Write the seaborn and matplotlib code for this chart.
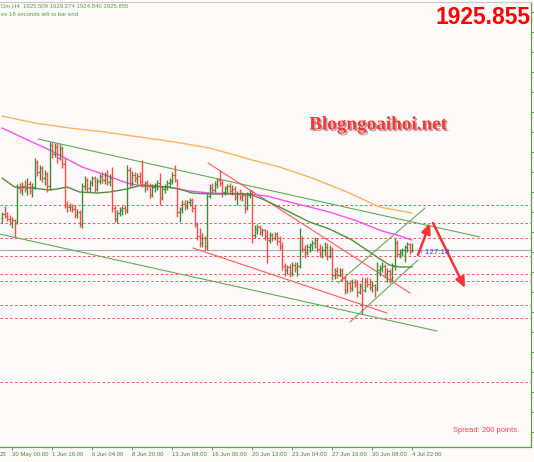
"""MT4-style XAUUSD H4 bar chart with channels and levels, rebuilt with seaborn."""

import matplotlib

matplotlib.use("Agg")
import matplotlib.patheffects as pe
import matplotlib.pyplot as plt
import matplotlib.transforms as mtransforms
import pandas as pd
import seaborn as sns

# ---- H4 bars, 26 May - 4 Jul 2023 (open = previous close) ----
first_open = 1942.0
bar_high = [
    1945, 1948, 1945, 1943.5, 1942.5, 1941.5, 1959, 1959.5, 1960, 1961,
    1962, 1960.5, 1959.5, 1972, 1971, 1968.5, 1968, 1966, 1965, 1980,
    1980, 1979.5, 1979.5, 1979, 1978, 1972, 1950.5, 1949.5, 1949, 1948.5,
    1946.5, 1946, 1959.5, 1963, 1962, 1961, 1963, 1963, 1962, 1964,
    1965, 1965, 1966, 1964, 1967.5, 1948.5, 1946, 1947.5, 1948, 1948.5,
    1968.5, 1967.5, 1965.5, 1965, 1964.5, 1965, 1971, 1960.5, 1961, 1959.5,
    1959, 1959.5, 1961, 1964.5, 1958, 1959, 1961, 1962, 1965, 1968.5,
    1961.5, 1947.5, 1951, 1951, 1951, 1952, 1952, 1948.5, 1940, 1937,
    1934.5, 1933, 1954.5, 1959, 1959.5, 1960.5, 1962, 1966, 1961, 1958,
    1959, 1959.5, 1958.5, 1958, 1955.5, 1956.5, 1955, 1954, 1955, 1956,
    1956, 1938.5, 1939, 1938.5, 1937, 1936.5, 1936, 1935, 1934.5, 1935,
    1935, 1933, 1930, 1919.5, 1918.5, 1919, 1920, 1920, 1920, 1937,
    1933, 1928.5, 1929, 1929.5, 1931, 1932.5, 1932, 1929, 1928, 1930,
    1929.5, 1928.5, 1927.5, 1917, 1917.5, 1917, 1917, 1913, 1911, 1911,
    1911.5, 1911.5, 1911, 1909.5, 1912.5, 1912, 1912.5, 1912, 1910.5, 1909,
    1920, 1918.5, 1920, 1919, 1917, 1916.5, 1919.5, 1932, 1931, 1926.5,
    1927, 1928.5, 1930, 1929.5, 1929.274,
]
bar_low = [
    1939.5, 1942, 1940.5, 1938.5, 1937, 1932.5, 1939, 1954.5, 1953.5, 1955,
    1953.5, 1954, 1952.5, 1956.5, 1963, 1961, 1960, 1958.5, 1955, 1956,
    1972, 1972.5, 1969.5, 1971, 1967, 1947, 1945, 1945.5, 1945, 1942,
    1942, 1937.5, 1937, 1956, 1955, 1955, 1958, 1955, 1955.5, 1959,
    1959.5, 1959, 1958.5, 1958, 1945, 1940, 1939.5, 1943, 1943.5, 1944,
    1944.5, 1957.5, 1958, 1960, 1959, 1958, 1957.5, 1955, 1956, 1952,
    1952.5, 1955, 1956, 1948.5, 1951, 1954.5, 1956, 1957.5, 1959, 1960,
    1942.5, 1940, 1944.5, 1946, 1946.5, 1948, 1945, 1937.5, 1931, 1927.5,
    1927.5, 1926, 1926, 1952, 1954.5, 1955, 1957, 1958, 1952.5, 1953.5,
    1954.5, 1954, 1953.5, 1951, 1948.5, 1951, 1950.5, 1944.5, 1946, 1952,
    1929.5, 1932, 1934, 1933.5, 1933, 1931, 1919.5, 1929.5, 1930.5, 1931,
    1928.5, 1926, 1916, 1913, 1914, 1912.5, 1913, 1915, 1913, 1917,
    1925, 1922, 1923.5, 1925, 1926, 1927, 1925, 1922.5, 1922, 1923,
    1921, 1922, 1911, 1911.5, 1912, 1912.5, 1910.5, 1904, 1904.5, 1905,
    1905.5, 1907.5, 1902.5, 1904, 1894, 1905, 1907.5, 1906, 1905, 1902.5,
    1905.5, 1913, 1915, 1912, 1910, 1909.5, 1910.5, 1916, 1922.5, 1922,
    1923, 1920, 1925, 1924, 1924.84,
]
bar_close = [
    1944, 1943, 1941.5, 1939.5, 1941, 1940, 1957, 1956, 1958, 1956.5,
    1959, 1955.5, 1957.5, 1970, 1965, 1967, 1962, 1964, 1958, 1978.5,
    1974, 1977.5, 1972, 1977, 1969, 1948.5, 1947.5, 1948, 1946.5, 1943.5,
    1945, 1939, 1958, 1961, 1957, 1959.5, 1962, 1956.5, 1960.5, 1963,
    1961, 1963.5, 1960, 1962, 1947, 1941.5, 1944.5, 1946, 1947, 1946,
    1966, 1959.5, 1963.5, 1962, 1963, 1960.5, 1958.5, 1959.5, 1958, 1953.5,
    1957.5, 1958.5, 1959.5, 1952, 1956.5, 1957.5, 1959.5, 1960.5, 1963.5, 1961,
    1945, 1946.5, 1949, 1948, 1950, 1951, 1947, 1939, 1933, 1929.5,
    1932, 1928, 1953, 1957, 1956, 1959, 1961, 1959.5, 1955, 1957,
    1958, 1955.5, 1956.5, 1952.5, 1954, 1952.5, 1953.5, 1947, 1953.5, 1954.5,
    1933.5, 1936.5, 1937.5, 1935, 1936, 1933, 1931, 1933.5, 1932, 1934,
    1930.5, 1928, 1918, 1916, 1917.5, 1914.5, 1918.5, 1917, 1918, 1932,
    1926.5, 1925, 1927.5, 1928.5, 1929.5, 1931, 1926.5, 1924, 1926, 1927.5,
    1923, 1926.5, 1913.5, 1915.5, 1913.5, 1916, 1912, 1906, 1909.5, 1907,
    1910, 1909, 1905, 1908, 1906, 1910.5, 1909, 1907.5, 1908.5, 1906.5,
    1916, 1917, 1918, 1914, 1915.5, 1911.5, 1918, 1929.5, 1924, 1925,
    1926, 1927.5, 1929, 1925.509, 1925.855,
]

# ---- moving averages at a few bars ----
ma_slow_bars = [0, 13, 27, 41, 55, 69, 83, 93, 100, 111, 124, 138, 151, 164]
ma_slow_vals = [1993, 1989.5, 1987, 1985, 1982.5, 1980, 1977, 1973.5, 1971,
                1967.5, 1962, 1955, 1947.5, 1944.5]
ma_mid_bars = [0, 12, 19, 26, 32, 39, 50, 56, 66, 75, 83, 99, 106, 115, 123,
               131, 142, 152, 158, 164]
ma_mid_vals = [1987, 1980, 1976, 1971.5, 1967.5, 1964.5, 1959.5, 1958, 1957.5,
               1955.5, 1954.5, 1954, 1953, 1950, 1947.5, 1945, 1940.5, 1935.5,
               1933.5, 1931]
ma_fast_bars = [0, 5, 12, 19, 22, 26, 31, 38, 43, 50, 56, 66, 71, 76, 83, 99,
                105, 111, 123, 131, 140, 150, 155, 159, 164]
ma_fast_vals = [1962, 1957.5, 1957, 1956, 1956.5, 1957.5, 1955, 1954.5, 1955,
                1956.5, 1958.5, 1957.5, 1956.5, 1954.5, 1954, 1954, 1951,
                1947.5, 1940, 1936.5, 1931, 1922.5, 1918.5, 1917.5, 1917.5]

# ---- drawn objects: (bar0, price0, bar1, price1) ----
green_channel = [(14.4, 1981.5, 191.2, 1932.5), (-1.0, 1934.0, 174.0, 1885.5)]
red_channel = [(82.4, 1969.5, 163.2, 1904.5), (76.4, 1927.0, 154.0, 1894.5)]
rising_channel = [(134.4, 1909.5, 169.2, 1947.0), (139.2, 1890.0, 166.4, 1921.0)]
arrows = [(166.4, 1923.5, 171.2, 1939.5), (172.4, 1939.5, 185.2, 1907.0)]
level_prices = [1948.5, 1939.5, 1932, 1923, 1914, 1910.5, 1898.5, 1892, 1860]
bid_price = 1925.855

tick_bars = [4, 20, 36, 52, 68, 84, 100, 116, 132, 148, 164]
tick_labels = ["30 May 00:00", "1 Jun 16:00", "6 Jun 04:00", "8 Jun 20:00",
               "13 Jun 08:00", "16 Jun 00:00", "20 Jun 12:00", "23 Jun 04:00",
               "27 Jun 16:00", "30 Jun 08:00", "4 Jul 22:00"]
header_lines = ["Dm,H4  1925.509 1929.274 1924.840 1925.855",
                "es 18 seconds left to bar end"]

UP = "#3d8c37"
DOWN = "#ff4a4a"
AXIS_GREEN = "#58a44a"
LABEL_GREEN = "#3f8a3a"
BG = "#fffafa"

sns.set_theme(style="white", rc={"axes.facecolor": BG, "figure.facecolor": BG})
plt.rcParams["font.family"] = ["Liberation Sans", "DejaVu Sans"]

fig = plt.figure(figsize=(5.34, 4.62), dpi=100)
ax = fig.add_axes([0, 15 / 462, 531 / 534, 445 / 462])
ax.set_xlim(-0.8, 211.6)
ax.set_ylim(1827.5, 2050.0)

# horizontal levels and current bid
for level in level_prices:
    ax.axhline(level, color="#ff4d4d", lw=0.7, ls=(0, (2.5, 2.5)), zorder=1)
ax.axhline(bid_price, color="#a3aebf", lw=0.8, zorder=1)

# channels
for x0, y0, x1, y1 in green_channel + rising_channel:
    ax.plot([x0, x1], [y0, y1], color="#62a957", lw=0.8, zorder=2)
for x0, y0, x1, y1 in red_channel:
    ax.plot([x0, x1], [y0, y1], color="#ff5a5a", lw=0.8, zorder=2)

# moving averages
sns.lineplot(x=ma_slow_bars, y=ma_slow_vals, ax=ax, color="#ffb35c", lw=1.0,
             sort=False, estimator=None, zorder=2)
sns.lineplot(x=ma_mid_bars, y=ma_mid_vals, ax=ax, color="#ff4dff", lw=1.0,
             sort=False, estimator=None, zorder=2)
sns.lineplot(x=ma_fast_bars, y=ma_fast_vals, ax=ax, color="#4f8f3f", lw=1.0,
             sort=False, estimator=None, zorder=2)

# OHLC bars
bars = pd.DataFrame({"high": bar_high, "low": bar_low, "close": bar_close})
bars["open"] = [first_open] + bar_close[:-1]
bars["bar"] = range(len(bars))
bars["up"] = bars["close"] >= bars["open"]
for is_up, color in [(True, UP), (False, DOWN)]:
    part = bars[bars["up"] == is_up]
    ax.vlines(part["bar"], part["low"], part["high"], color=color, lw=1.0, zorder=3)
    ax.hlines(part["open"], part["bar"] - 0.45, part["bar"], color=color, lw=0.85, zorder=3)
    ax.hlines(part["close"], part["bar"], part["bar"] + 0.45, color=color, lw=0.85, zorder=3)

# forecast arrows
for x0, y0, x1, y1 in arrows:
    ann = ax.annotate("", xy=(x1, y1), xytext=(x0, y0), zorder=5,
                      arrowprops=dict(arrowstyle="-|>,head_length=0.5,head_width=0.22",
                                      color="#f03636", lw=1.8, shrinkA=0, shrinkB=0))
    ann.arrow_patch.set_path_effects(
        [pe.SimplePatchShadow(offset=(1, -1), shadow_rgbFace="#999999", alpha=0.5), pe.Normal()]
    )
ax.text(167.2, 1924.5, "\u2039 127:18", color="#3b3bff", fontsize=5.8, va="center", zorder=6)

# frame like the terminal window
ax.spines["left"].set_visible(False)
ax.spines["top"].set_color("#c8c8c8")
ax.spines["top"].set_linewidth(0.8)
for side in ["bottom", "right"]:
    ax.spines[side].set_color(AXIS_GREEN)
    ax.spines[side].set_linewidth(0.9)

ax.set_xticks(tick_bars, tick_labels)
for lbl in ax.get_xticklabels():
    lbl.set_horizontalalignment("left")
ax.tick_params(axis="x", direction="out", length=2.5, width=0.7, color=AXIS_GREEN,
               labelsize=4.3, labelcolor=LABEL_GREEN, pad=1.2, bottom=True)
# tail of the first date label, cut by the window edge
first_label_pos = mtransforms.offset_copy(ax.get_xaxis_transform(), fig=fig, x=0, y=-3.7,
                                          units="points")
ax.text(-0.8, 0, "23", transform=first_label_pos, fontsize=4.3, color=LABEL_GREEN,
        ha="left", va="top", clip_on=False)
ax.yaxis.tick_right()
ax.set_yticks(range(1835, 2050, 10))
ax.tick_params(axis="y", direction="out", length=2, width=0.7, color=AXIS_GREEN,
               labelright=False, right=True, left=False)
ax.set_xlabel("")
ax.set_ylabel("")
ax.grid(False)

# header and overlays
fig.text(1 / 534, 1 - 6 / 462, header_lines[0], fontsize=4.3, color="#5a9e48",
         ha="left", va="center")
fig.text(1 / 534, 1 - 15 / 462, header_lines[1], fontsize=4.3, color="#5a9e48",
         ha="left", va="center")
fig.text(483 / 534, 1 - 17 / 462, "1925.855", fontsize=16.5, fontweight="bold",
         color="#ff0000", ha="center", va="center")
fig.text(378 / 534, 1 - 125 / 462, "Blogngoaihoi.net", family="Liberation Serif",
         fontsize=13.8, fontweight="bold", color="#ff3535", ha="center", va="center",
         path_effects=[pe.SimplePatchShadow(offset=(1.2, -1.2), shadow_rgbFace="#777777",
                                            alpha=0.6), pe.Normal()])
fig.text(519 / 534, 1 - 430 / 462, "Spread: 200 points.", fontsize=5.5,
         color="#ff4055", ha="right", va="center")

fig.savefig("out.png", dpi=100, facecolor=BG)
